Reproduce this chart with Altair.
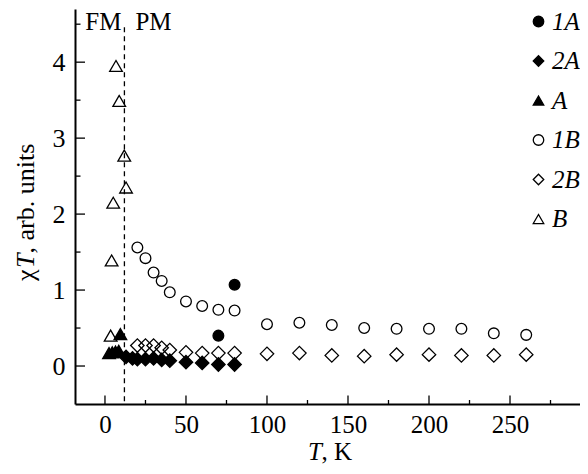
import altair as alt
import pandas as pd

SERIF = "Liberation Serif"

SERIES = ["1A", "2A", "A", "1B", "2B", "B"]
SHAPES = ["circle", "diamond", "triangle-up", "circle", "diamond", "triangle-up"]
FILLS = ["black", "black", "black", "transparent", "transparent", "transparent"]
STROKES = ["black"] * 6

# series data (T in K, chi*T in arb. units)
T_B = [3.5, 4.1, 5.1, 6.8, 8.8, 11.9, 13.0]
Y_B = [0.40, 1.39, 2.15, 3.95, 3.49, 2.77, 2.35]

T_2B = [20, 25, 30, 35, 40, 50, 60, 70, 80, 100, 120, 140, 160, 180, 200, 220, 240, 260]
Y_2B = [0.27, 0.27, 0.27, 0.24, 0.21, 0.18, 0.17, 0.17, 0.17, 0.16, 0.17, 0.14, 0.13, 0.15, 0.15, 0.14, 0.14, 0.15]

T_1B = [20, 25, 30, 35, 40, 50, 60, 70, 80, 100, 120, 140, 160, 180, 200, 220, 240, 260]
Y_1B = [1.56, 1.42, 1.23, 1.12, 0.97, 0.85, 0.79, 0.74, 0.73, 0.55, 0.57, 0.54, 0.50, 0.49, 0.49, 0.49, 0.43, 0.41]

T_A = [2.5, 4.5, 6.5, 8.5, 9.5]
Y_A = [0.17, 0.18, 0.19, 0.20, 0.42]

T_2A = [13, 17, 20, 25, 30, 35, 40, 50, 60, 70, 80]
Y_2A = [0.12, 0.10, 0.09, 0.09, 0.10, 0.08, 0.07, 0.05, 0.04, 0.02, 0.02]

T_1A = [70, 80]
Y_1A = [0.40, 1.07]

TC = 12          # FM / PM boundary
DASH_TOP = 4.46  # upper end of the dashed line

X_MAJOR = [0, 50, 100, 150, 200, 250]
X_MINOR = [25, 75, 125, 175, 225, 275]
Y_MAJOR = [0, 1, 2, 3, 4]
Y_MINOR = [0.5, 1.5, 2.5, 3.5, 4.5]

X_DOMAIN = [-18.5, 293.2]
Y_DOMAIN = [-0.5, 4.7]

W, H = 505, 395
FS = 26

rows = []
for name, ts, yv in [("B", T_B, Y_B), ("2B", T_2B, Y_2B), ("1B", T_1B, Y_1B),
                     ("A", T_A, Y_A), ("2A", T_2A, Y_2A), ("1A", T_1A, Y_1A)]:
    for t, y in zip(ts, yv):
        rows.append({"series": name, "T": t, "chi": y})
df = pd.DataFrame(rows)

xs = alt.Scale(domain=X_DOMAIN, nice=False, zero=False)
ys = alt.Scale(domain=Y_DOMAIN, nice=False, zero=False)

legend = alt.Legend(
    title=None, orient="none", legendX=451, legendY=0, padding=0,
    labelFont=SERIF, labelFontStyle="italic", labelFontSize=25, labelColor="black",
    symbolSize=110, symbolStrokeColor="black", symbolStrokeWidth=1.3,
    rowPadding=13.5, labelOffset=1,
)

x_axis = alt.Axis(values=X_MAJOR, ticks=False, grid=False, title=None, labelPadding=8,
                  domainWidth=2, domainColor="black", labelFont=SERIF, labelFontSize=25,
                  labelColor="black", labelFlush=False)
y_axis = alt.Axis(values=Y_MAJOR, ticks=False, grid=False, title=None, labelPadding=10,
                  domainWidth=2, domainColor="black", labelFont=SERIF, labelFontSize=FS,
                  labelColor="black", labelFlush=False)

def pts(names, size):
    return alt.Chart(df).transform_filter(
        alt.FieldOneOfPredicate(field="series", oneOf=names)
    ).mark_point(strokeWidth=1.3, opacity=1, size=size).encode(
        x=alt.X("T:Q", scale=xs, axis=x_axis),
        y=alt.Y("chi:Q", scale=ys, axis=y_axis),
        shape=alt.Shape("series:N", scale=alt.Scale(domain=SERIES, range=SHAPES), legend=legend),
        fill=alt.Fill("series:N", scale=alt.Scale(domain=SERIES, range=FILLS), legend=legend),
        stroke=alt.Stroke("series:N", scale=alt.Scale(domain=SERIES, range=STROKES), legend=legend),
    )

def xticks(vals, length):
    return alt.Chart(pd.DataFrame({"v": vals})).mark_rule(color="black", strokeWidth=1.3).encode(
        x=alt.X("v:Q", scale=xs, axis=x_axis), y=alt.value(H), y2=alt.value(H - length))

def yticks(vals, length):
    return alt.Chart(pd.DataFrame({"v": vals})).mark_rule(color="black", strokeWidth=1.3).encode(
        y=alt.Y("v:Q", scale=ys, axis=y_axis), x=alt.value(0), x2=alt.value(length))

dash = alt.Chart(pd.DataFrame({"T": [TC], "top": [DASH_TOP]})).mark_rule(
    color="black", strokeWidth=1.3, strokeDash=[5, 4]).encode(
    x=alt.X("T:Q", scale=xs, axis=x_axis), y=alt.Y("top:Q", scale=ys, axis=y_axis), y2=alt.value(H))

tc_df = pd.DataFrame({"T": [TC]})
fm = alt.Chart(tc_df).mark_text(text="FM", align="right", dx=-3, baseline="alphabetic",
                                font=SERIF, fontSize=25, color="black").encode(
    x=alt.X("T:Q", scale=xs, axis=x_axis), y=alt.value(21))
pm = alt.Chart(tc_df).mark_text(text="PM", align="left", dx=11, baseline="alphabetic",
                                font=SERIF, fontSize=25, color="black").encode(
    x=alt.X("T:Q", scale=xs, axis=x_axis), y=alt.value(21))

one = pd.DataFrame({"a": [0]})
def label(txt, x, y, style="normal", angle=0, baseline="alphabetic", size=FS):
    return alt.Chart(one).mark_text(text=txt, align="left", baseline=baseline, angle=angle,
                                    font=SERIF, fontSize=size, fontStyle=style, color="black").encode(
        x=alt.value(x), y=alt.value(y))

xt1 = label("T", 233, 451, style="italic", size=25)
xt2 = label(", K", 246.5, 451, size=25)
yt1 = label("χ", -49, 272, angle=270, baseline="middle")
yt2 = label("T", -49, 259, style="italic", angle=270, baseline="middle")
yt3 = label(", arb. units", -49, 244.5, angle=270, baseline="middle")

chart = alt.layer(
    pts(["B"], 160), pts(["2B"], 180), pts(["1B"], 115),
    pts(["A"], 160), pts(["2A"], 180), pts(["1A"], 115),
    dash, xticks(X_MAJOR, 8.5), xticks(X_MINOR, 4), yticks(Y_MAJOR, 10), yticks(Y_MINOR, 5.5),
    fm, pm, xt1, xt2, yt1, yt2, yt3,
).properties(
    width=W, height=H, autosize=alt.AutoSizeParams(type="none"),
    padding={"left": 67, "top": 1, "right": 0, "bottom": 62},
).configure_view(strokeWidth=0)

chart.save("out.html", embed_options={"renderer": "svg", "actions": False})
